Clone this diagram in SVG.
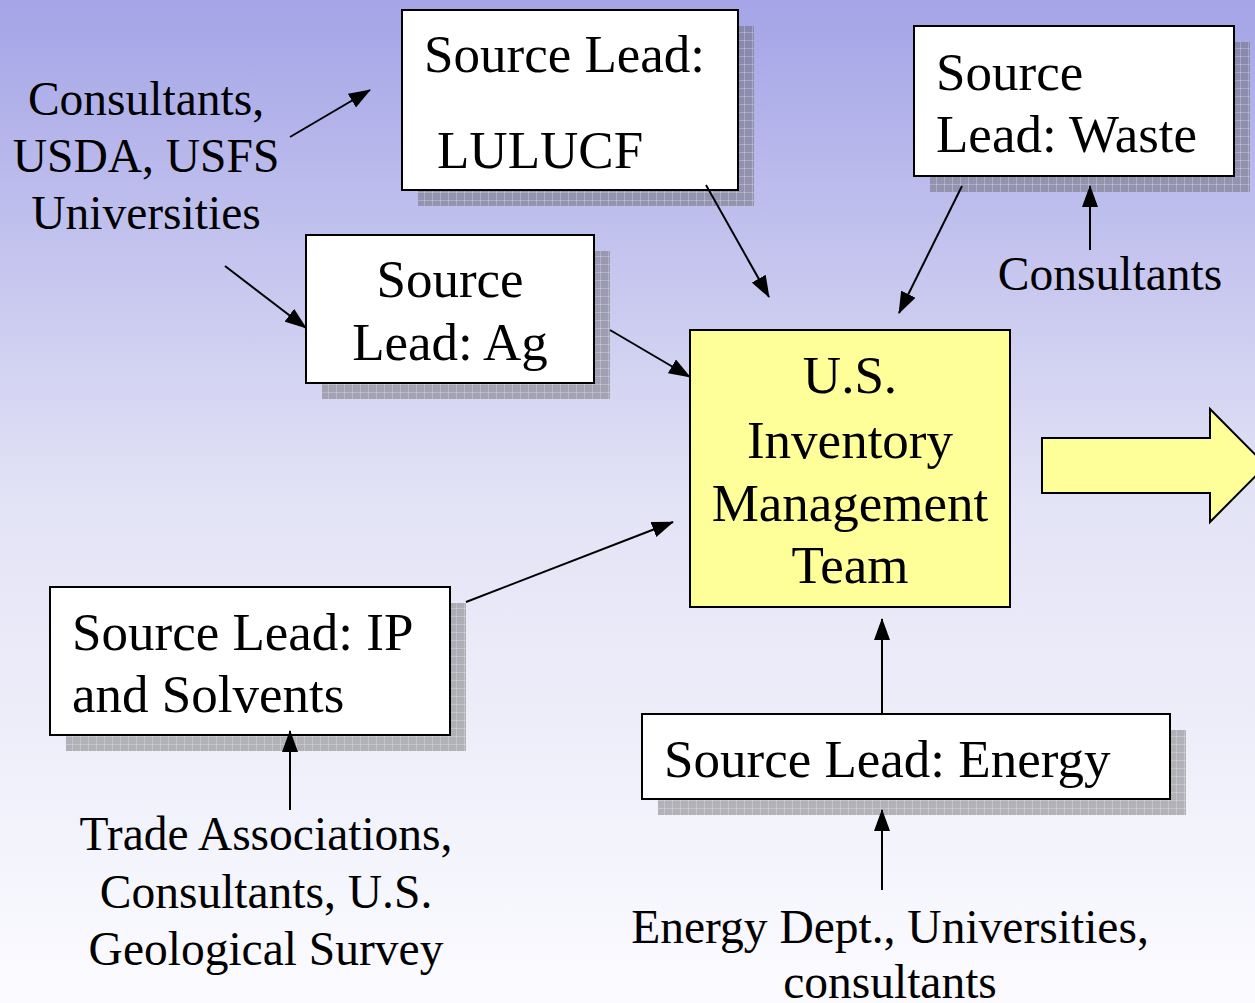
<svg xmlns="http://www.w3.org/2000/svg" width="1255" height="1003" viewBox="0 0 1255 1003">
  <defs>
    <linearGradient id="bg" x1="0" y1="0" x2="0" y2="1">
      <stop offset="0" stop-color="#a4a4e7"/>
      <stop offset="0.5" stop-color="#e3e3f6"/>
      <stop offset="1" stop-color="#fbfbff"/>
    </linearGradient>
    <!-- hatched drop shadow -->
    <pattern id="grid" width="8" height="8" patternUnits="userSpaceOnUse">
      <rect width="8" height="8" fill="#5a5a5a" fill-opacity="0.42"/>
      <path d="M0 0.5H8M0.5 0V8" stroke="#ffffff" stroke-opacity="0.25" stroke-width="1"/>
    </pattern>
    <marker id="tri" viewBox="0 0 22 16" refX="21" refY="8" markerWidth="22" markerHeight="16" markerUnits="userSpaceOnUse" orient="auto">
      <path d="M0 0 L22 8 L0 16 Z" fill="#000"/>
    </marker>
  </defs>
  <style>
    .box { fill: #ffffff; stroke: #000; stroke-width: 2; }
    .core { fill: #ffff99; stroke: #000; stroke-width: 2; }
    .shadow { fill: url(#grid); }
    .t { font-family: "Liberation Serif", "Times New Roman", serif; font-size: 53px; fill: #000; }
    .lbl { font-family: "Liberation Serif", "Times New Roman", serif; font-size: 47.5px; fill: #000; text-anchor: middle; }
    .mid { text-anchor: middle; }
    .conn line { stroke: #000; stroke-width: 2; marker-end: url(#tri); }
  </style>

  <rect width="1255" height="1003" fill="url(#bg)"/>

  <!-- outside contributors -->
  <g id="label-lulucf-contrib">
    <text class="lbl" x="146" y="115">Consultants,</text>
    <text class="lbl" x="146" y="172">USDA, USFS</text>
    <text class="lbl" x="146" y="229">Universities</text>
  </g>
  <g id="label-waste-contrib">
    <text class="lbl" x="1110" y="290">Consultants</text>
  </g>
  <g id="label-ip-contrib">
    <text class="lbl" x="266" y="850">Trade Associations,</text>
    <text class="lbl" x="266" y="908">Consultants, U.S.</text>
    <text class="lbl" x="266" y="965">Geological Survey</text>
  </g>
  <g id="label-energy-contrib">
    <text class="lbl" x="890" y="943">Energy Dept., Universities,</text>
    <text class="lbl" x="890" y="998">consultants</text>
  </g>

  <!-- source lead boxes -->
  <g id="lead-lulucf">
    <rect class="shadow" x="418" y="26" width="336" height="180"/>
    <rect class="box" x="402" y="10" width="336" height="180"/>
    <text class="t" x="424" y="72">Source Lead:</text>
    <text class="t" x="437" y="168">LULUCF</text>
  </g>
  <g id="lead-waste">
    <rect class="shadow" x="930" y="42" width="320" height="150"/>
    <rect class="box" x="914" y="26" width="320" height="150"/>
    <text class="t" x="936" y="90">Source</text>
    <text class="t" x="936" y="152">Lead: Waste</text>
  </g>
  <g id="lead-ag">
    <rect class="shadow" x="322" y="251" width="288" height="148"/>
    <rect class="box" x="306" y="235" width="288" height="148"/>
    <text class="t mid" x="450" y="297">Source</text>
    <text class="t mid" x="450" y="360">Lead: Ag</text>
  </g>
  <g id="lead-ip">
    <rect class="shadow" x="66" y="603" width="400" height="148"/>
    <rect class="box" x="50" y="587" width="400" height="148"/>
    <text class="t" x="72" y="650">Source Lead: IP</text>
    <text class="t" x="72" y="712">and Solvents</text>
  </g>
  <g id="lead-energy">
    <rect class="shadow" x="658" y="730" width="528" height="85"/>
    <rect class="box" x="642" y="714" width="528" height="85"/>
    <text class="t" x="664" y="777">Source Lead: Energy</text>
  </g>

  <!-- central team -->
  <g id="team">
    <rect class="core" x="690" y="330" width="320" height="277"/>
    <text class="t mid" x="850" y="393">U.S.</text>
    <text class="t mid" x="850" y="458">Inventory</text>
    <text class="t mid" x="850" y="521">Management</text>
    <text class="t mid" x="850" y="583">Team</text>
  </g>

  <!-- block arrow to the right -->
  <g id="output-arrow">
    <path d="M1042 438 H1210 V409 L1266 465.5 L1210 522 V493 H1042 Z" fill="#ffff99" stroke="#000" stroke-width="2" stroke-linejoin="miter"/>
  </g>

  <g id="connectors" class="conn">
    <line x1="290" y1="137" x2="370" y2="90"/>
    <line x1="225" y1="266" x2="306" y2="328"/>
    <line x1="610" y1="330" x2="690" y2="377"/>
    <line x1="706" y1="185" x2="769" y2="297"/>
    <line x1="962" y1="186" x2="899" y2="313"/>
    <line x1="1090" y1="250" x2="1090" y2="186"/>
    <line x1="466" y1="602" x2="673" y2="522"/>
    <line x1="290" y1="810" x2="290" y2="731"/>
    <line x1="882" y1="713" x2="882" y2="619"/>
    <line x1="882" y1="890" x2="882" y2="810"/>
  </g>
</svg>
